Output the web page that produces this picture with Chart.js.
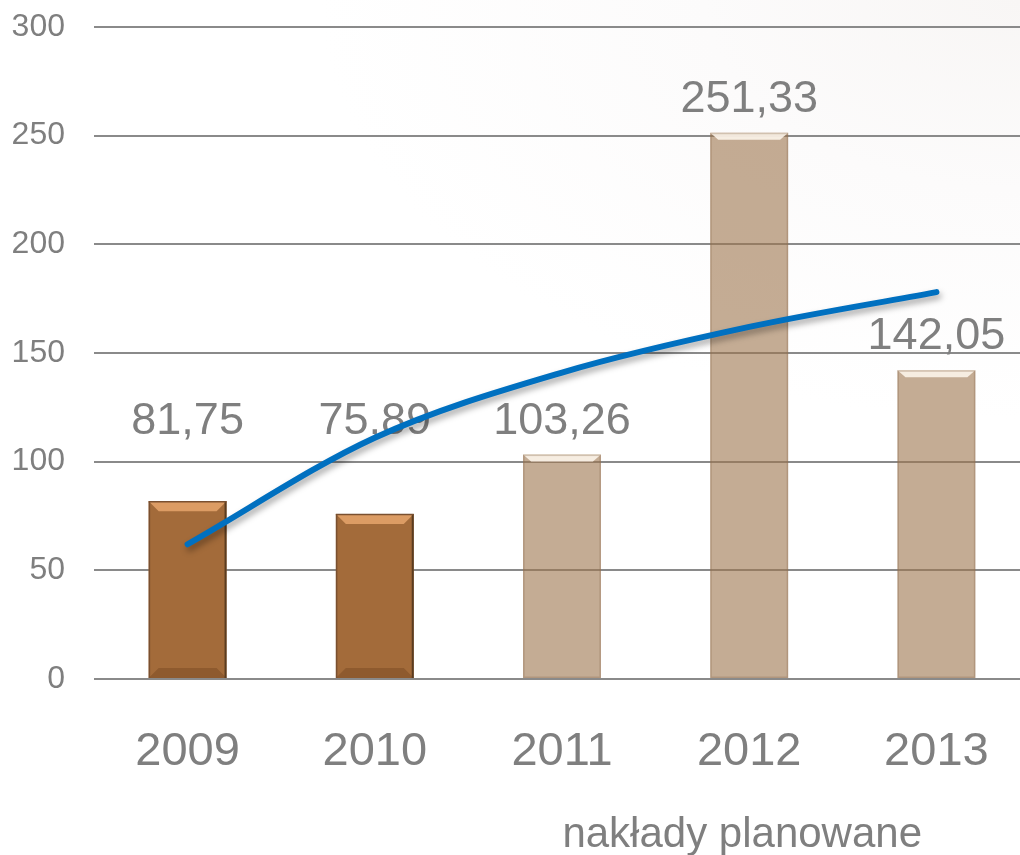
<!DOCTYPE html>
<html>
<head>
<meta charset="utf-8">
<script src="https://cdn.jsdelivr.net/npm/chart.js@4.4.1/dist/chart.umd.min.js"></script>
<style>
  html, body { margin: 0; padding: 0; overflow: hidden; background: #ffffff; }
  #wrap { position: relative; width: 1040px; height: 855px;
    background: radial-gradient(ellipse 700px 420px at 1020px 0px, #f8f6f5 0%, #fcfbfb 45%, #ffffff 100%); }
</style>
</head>
<body>
<div id="wrap"><canvas id="c"></canvas></div>
<script>
// ---- data ----
const categories = ['2009', '2010', '2011', '2012', '2013'];
const values = [81.75, 75.89, 103.26, 251.33, 142.05];
const valueLabels = ['81,75', '75,89', '103,26', '251,33', '142,05'];
const trendValues = [62, 111, 141, 162, 178];
const yTicks = [0, 50, 100, 150, 200, 250, 300];
const realized = [true, true, false, false, false];
const axisNote = 'nakłady planowane';

const TXT = '#7f7f7f';
const FONT = "'Liberation Sans', Arial, sans-serif";

const barColors = realized.map(r => r ? '#a36b3a' : 'rgba(157,117,77,0.6)');

const bevelPlugin = {
  id: 'bevel',
  beforeDatasetDraw(chart, args) {
    if (args.index === 1) {
      const ctx = chart.ctx;
      ctx.save();
      ctx.shadowColor = 'rgba(0,0,0,0.35)';
      ctx.shadowBlur = 6;
      ctx.shadowOffsetX = 2;
      ctx.shadowOffsetY = 4;
    }
  },
  afterDatasetDraw(chart, args) {
    const ctx = chart.ctx;
    if (args.index === 1) { ctx.restore(); return; }
    if (args.index !== 0) return;
    const meta = chart.getDatasetMeta(0);
    const minLabelPx = chart.scales.y.getPixelForValue(values[2]);
    meta.data.forEach((bar, i) => {
      const { x, y, base, width } = bar.getProps(['x', 'y', 'base', 'width'], true);
      const l = x - width / 2, r = x + width / 2, t = y, b = base;
      const bv = 10;
      ctx.save();
      if (realized[i]) {
        ctx.fillStyle = '#dc9c64';
        ctx.beginPath(); ctx.moveTo(l, t); ctx.lineTo(r, t); ctx.lineTo(r - bv, t + bv); ctx.lineTo(l + bv, t + bv); ctx.closePath(); ctx.fill();
        ctx.fillStyle = '#8e5a2e';
        ctx.beginPath(); ctx.moveTo(l, b); ctx.lineTo(r, b); ctx.lineTo(r - bv, b - bv); ctx.lineTo(l + bv, b - bv); ctx.closePath(); ctx.fill();
        ctx.strokeStyle = '#5a3c20'; ctx.lineWidth = 2;
        ctx.beginPath(); ctx.moveTo(r - 1, t); ctx.lineTo(r - 1, b); ctx.stroke();
        ctx.strokeStyle = '#7a5030'; ctx.lineWidth = 1.5;
        ctx.beginPath(); ctx.moveTo(l + 0.75, t); ctx.lineTo(l + 0.75, b); ctx.stroke();
        ctx.beginPath(); ctx.moveTo(l, t + 0.5); ctx.lineTo(r, t + 0.5); ctx.stroke();
      } else {
        ctx.fillStyle = 'rgba(252,244,234,0.9)';
        ctx.beginPath(); ctx.moveTo(l, t); ctx.lineTo(r, t); ctx.lineTo(r - 8, t + 7); ctx.lineTo(l + 8, t + 7); ctx.closePath(); ctx.fill();
        ctx.strokeStyle = 'rgba(140,110,80,0.35)'; ctx.lineWidth = 1.5;
        ctx.strokeRect(l + 0.75, t + 0.75, width - 1.5, b - t - 1.5);
      }
      ctx.restore();
      const labelBase = Math.min(t, minLabelPx) - 21;
      ctx.save();
      ctx.font = '45px ' + FONT;
      ctx.fillStyle = TXT;
      ctx.textAlign = 'center';
      ctx.textBaseline = 'alphabetic';
      ctx.fillText(valueLabels[i], x, labelBase);
      ctx.restore();
    });
  },
  afterDraw(chart) {
    const ctx = chart.ctx;
    ctx.save();
    ctx.font = '42px ' + FONT;
    ctx.fillStyle = TXT;
    ctx.textAlign = 'center';
    ctx.textBaseline = 'alphabetic';
    ctx.fillText(axisNote, chart.scales.x.getPixelForValue(3) - 7, 847);
    ctx.restore();
  }
};

new Chart(document.getElementById('c'), {
  data: {
    labels: categories,
    datasets: [
      {
        type: 'bar',
        data: values,
        backgroundColor: barColors,
        borderWidth: 0,
        barPercentage: 0.416,
        categoryPercentage: 1,
        order: 2
      },
      {
        type: 'line',
        data: trendValues,
        borderColor: '#0070c0',
        borderWidth: 6,
        borderCapStyle: 'round',
        pointRadius: 0,
        cubicInterpolationMode: 'monotone',
        fill: false,
        order: 1
      }
    ]
  },
  options: {
    responsive: true,
    maintainAspectRatio: false,
    animation: false,
    layout: { padding: { top: 27, right: 10, left: 0, bottom: 0 } },
    plugins: { legend: { display: false }, tooltip: { enabled: false } },
    scales: {
      x: {
        grid: { display: false, drawTicks: false },
        border: { display: false },
        ticks: { color: TXT, font: { family: FONT, size: 47 }, padding: 45, maxRotation: 0 },
        afterFit(s) { s.height = 176; s.paddingLeft = 0; s.paddingRight = 0; }
      },
      y: {
        min: 0, max: 300,
        afterBuildTicks(s) { s.ticks = yTicks.map(v => ({ value: v })); },
        grid: { color: '#8a8a8a', lineWidth: 2, drawTicks: false },
        border: { display: false },
        ticks: { color: TXT, font: { family: FONT, size: 32 }, padding: 29 },
        afterFit(s) { s.width = 94; s.paddingTop = 0; s.paddingBottom = 0; }
      }
    }
  },
  plugins: [bevelPlugin]
});
</script>
</body>
</html>
